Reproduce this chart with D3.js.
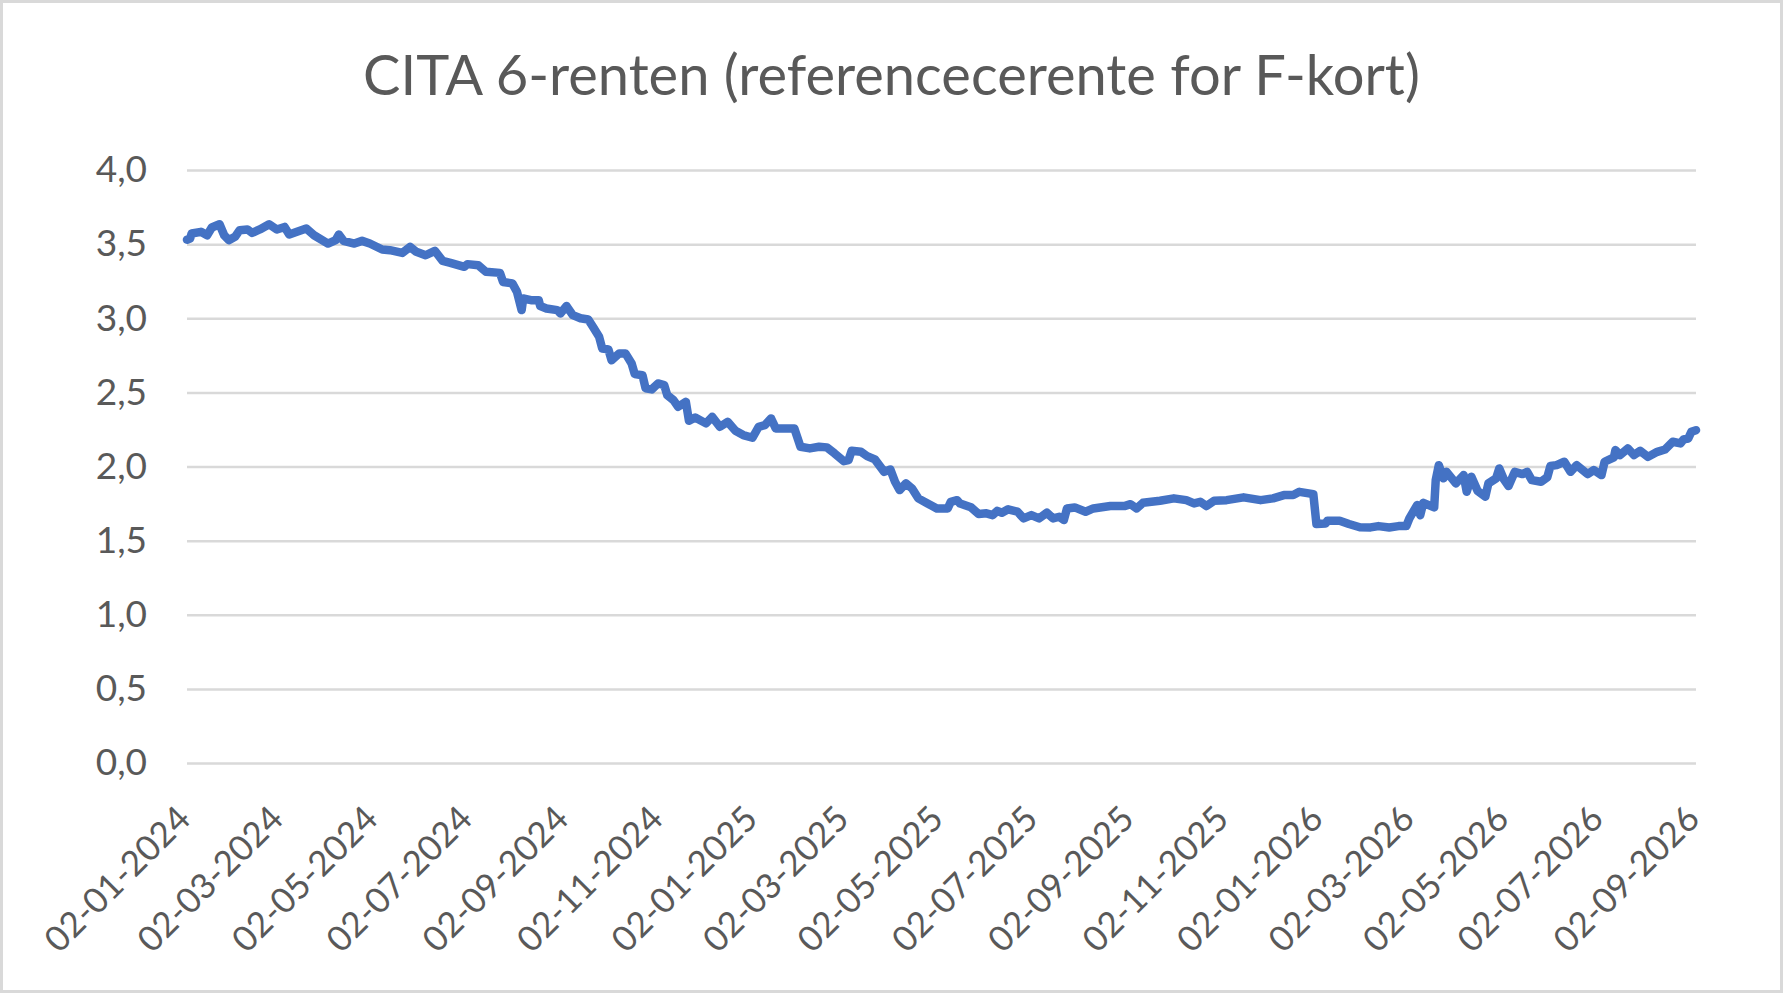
<!DOCTYPE html>
<html>
<head>
<meta charset="utf-8">
<script src="https://d3js.org/d3.v7.min.js"></script>
<style>
  body { margin: 0; background: #fff; }
  svg { display: block; }
</style>
</head>
<body>
<div id="chart"></div>
<script>
const title = "CITA 6-renten (referencecerente for F-kort)";

// dates (yyyy-mm-dd)
const dates = [
    "2024-01-02", "2024-01-04", "2024-01-05", "2024-01-11", "2024-01-15", "2024-01-18", "2024-01-23", "2024-01-26",
    "2024-01-29", "2024-02-02", "2024-02-05", "2024-02-10", "2024-02-13", "2024-02-18", "2024-02-24", "2024-02-29",
    "2024-03-05", "2024-03-08", "2024-03-13", "2024-03-19", "2024-03-24", "2024-04-02", "2024-04-07", "2024-04-09",
    "2024-04-12", "2024-04-19", "2024-04-24", "2024-04-29", "2024-05-07", "2024-05-12", "2024-05-20", "2024-05-25",
    "2024-05-29", "2024-06-04", "2024-06-10", "2024-06-15", "2024-06-20", "2024-06-29", "2024-07-01", "2024-07-08",
    "2024-07-13", "2024-07-22", "2024-07-24", "2024-07-30", "2024-08-02", "2024-08-05", "2024-08-06", "2024-08-11",
    "2024-08-16", "2024-08-17", "2024-08-21", "2024-08-28", "2024-08-30", "2024-09-03", "2024-09-07", "2024-09-12",
    "2024-09-17", "2024-09-20", "2024-09-24", "2024-09-26", "2024-09-30", "2024-10-02", "2024-10-07", "2024-10-11",
    "2024-10-15", "2024-10-17", "2024-10-22", "2024-10-24", "2024-10-28", "2024-11-01", "2024-11-05", "2024-11-07",
    "2024-11-11", "2024-11-14", "2024-11-19", "2024-11-21", "2024-11-25", "2024-12-02", "2024-12-06", "2024-12-11",
    "2024-12-16", "2024-12-21", "2024-12-26", "2025-01-01", "2025-01-05", "2025-01-09", "2025-01-13", "2025-01-16",
    "2025-01-22", "2025-01-28", "2025-02-01", "2025-02-07", "2025-02-13", "2025-02-18", "2025-02-23", "2025-03-01",
    "2025-03-04", "2025-03-06", "2025-03-12", "2025-03-16", "2025-03-21", "2025-03-27", "2025-03-31", "2025-04-03",
    "2025-04-06", "2025-04-10", "2025-04-14", "2025-04-18", "2025-04-24", "2025-04-30", "2025-05-07", "2025-05-09",
    "2025-05-13", "2025-05-15", "2025-05-22", "2025-05-27", "2025-06-01", "2025-06-05", "2025-06-08", "2025-06-11",
    "2025-06-15", "2025-06-21", "2025-06-25", "2025-06-30", "2025-07-05", "2025-07-10", "2025-07-14", "2025-07-18",
    "2025-07-21", "2025-07-23", "2025-07-28", "2025-08-04", "2025-08-09", "2025-08-20", "2025-08-29", "2025-09-02",
    "2025-09-06", "2025-09-10", "2025-09-21", "2025-09-30", "2025-10-08", "2025-10-13", "2025-10-17", "2025-10-21",
    "2025-10-26", "2025-11-03", "2025-11-14", "2025-11-25", "2025-12-03", "2025-12-10", "2025-12-16", "2025-12-20",
    "2025-12-29", "2025-12-31", "2026-01-06", "2026-01-07", "2026-01-15", "2026-01-21", "2026-01-28", "2026-02-04",
    "2026-02-09", "2026-02-16", "2026-02-22", "2026-02-27", "2026-03-01", "2026-03-06", "2026-03-08", "2026-03-10",
    "2026-03-17", "2026-03-18", "2026-03-20", "2026-03-23", "2026-03-25", "2026-03-31", "2026-04-05", "2026-04-07",
    "2026-04-10", "2026-04-14", "2026-04-19", "2026-04-21", "2026-04-26", "2026-04-28", "2026-05-01", "2026-05-04",
    "2026-05-08", "2026-05-13", "2026-05-16", "2026-05-19", "2026-05-25", "2026-05-29", "2026-05-31", "2026-06-04",
    "2026-06-09", "2026-06-13", "2026-06-17", "2026-06-24", "2026-06-28", "2026-07-03", "2026-07-05", "2026-07-11",
    "2026-07-12", "2026-07-15", "2026-07-20", "2026-07-24", "2026-07-28", "2026-08-02", "2026-08-08", "2026-08-13",
    "2026-08-18", "2026-08-23", "2026-08-25", "2026-08-28", "2026-08-30", "2026-09-02"
];

// rate in percent
const rates = [
    3.53, 3.538, 3.572, 3.583, 3.56, 3.612, 3.634, 3.56,
    3.527, 3.549, 3.594, 3.599, 3.576, 3.599, 3.634, 3.599,
    3.616, 3.565, 3.583, 3.605, 3.56, 3.504, 3.527, 3.565,
    3.522, 3.504, 3.522, 3.504, 3.464, 3.459, 3.441, 3.481,
    3.448, 3.425, 3.455, 3.387, 3.374, 3.347, 3.365, 3.358,
    3.313, 3.306, 3.245, 3.235, 3.178, 3.055, 3.133, 3.122,
    3.122, 3.082, 3.066, 3.055, 3.032, 3.082, 3.021, 3.0,
    2.992, 2.942, 2.875, 2.796, 2.79, 2.717, 2.763, 2.763,
    2.695, 2.623, 2.616, 2.527, 2.52, 2.56, 2.549, 2.481,
    2.448, 2.403, 2.436, 2.308, 2.331, 2.291, 2.335, 2.268,
    2.301, 2.241, 2.212, 2.194, 2.268, 2.279, 2.324, 2.257,
    2.257, 2.257, 2.133, 2.122, 2.133, 2.129, 2.088, 2.036,
    2.043, 2.106, 2.099, 2.07, 2.048, 1.964, 1.98, 1.897,
    1.841, 1.886, 1.852, 1.785, 1.751, 1.717, 1.717, 1.762,
    1.773, 1.75, 1.725, 1.679, 1.684, 1.672, 1.701, 1.688,
    1.711, 1.695, 1.65, 1.672, 1.65, 1.688, 1.65, 1.661,
    1.639, 1.717, 1.724, 1.695, 1.717, 1.733, 1.733, 1.746,
    1.717, 1.755, 1.769, 1.785, 1.773, 1.751, 1.762, 1.733,
    1.769, 1.773, 1.792, 1.773, 1.785, 1.807, 1.807, 1.829,
    1.814, 1.612, 1.616, 1.634, 1.634, 1.612, 1.59, 1.589,
    1.598, 1.589, 1.598, 1.598, 1.65, 1.74, 1.672, 1.755,
    1.724, 1.908, 2.009, 1.92, 1.964, 1.886, 1.942, 1.829,
    1.931, 1.836, 1.796, 1.886, 1.92, 1.987, 1.913, 1.868,
    1.964, 1.949, 1.964, 1.908, 1.897, 1.927, 2.003, 2.009,
    2.032, 1.964, 2.009, 1.949, 1.976, 1.942, 2.032, 2.061,
    2.111, 2.077, 2.122, 2.077, 2.106, 2.065, 2.099, 2.115,
    2.167, 2.156, 2.183, 2.189, 2.234, 2.245
];

const xTicks = [
    "2024-01-02", "2024-03-02", "2024-05-02", "2024-07-02", "2024-09-02", "2024-11-02",
    "2025-01-02", "2025-03-02", "2025-05-02", "2025-07-02", "2025-09-02", "2025-11-02",
    "2026-01-02", "2026-03-02", "2026-05-02", "2026-07-02", "2026-09-02"
];
const yTicks = [0, 0.5, 1, 1.5, 2, 2.5, 3, 3.5, 4];

const fullWidth = 1783;
const fullHeight = 993;
const margin = { top: 170, right: 87, bottom: 230, left: 187 };
const fontFamily = "Lato, 'Open Sans', sans-serif";
const textColor = "#595959";

const parseDate = d3.timeParse("%Y-%m-%d");
const fmtDate = d3.timeFormat("%d-%m-%Y");
const fmtNum = d3.formatLocale({ decimal: ",", thousands: ".", grouping: [3], currency: ["", " kr."] }).format(".1f");

function render() {
    const container = d3.select("#chart");
    container.selectAll("*").remove();

    const svg = container.append("svg")
        .attr("width", fullWidth)
        .attr("height", fullHeight);

    // chart area with its thin grey frame
    svg.append("rect")
        .attr("x", 1.5)
        .attr("y", 1.5)
        .attr("width", fullWidth - 3)
        .attr("height", fullHeight - 3)
        .attr("fill", "#fff")
        .attr("stroke", "#d9d9d9")
        .attr("stroke-width", 3);

    const width = fullWidth - margin.left - margin.right;
    const innerHeight = fullHeight - margin.top - margin.bottom;

    const g = svg.append("g")
        .attr("transform", `translate(${margin.left}, ${margin.top})`);

    const data = dates.map((d, i) => ({ date: parseDate(d), rate: rates[i] }));

    // Scales
    const x = d3.scaleTime()
        .domain([parseDate(xTicks[0]), parseDate(xTicks[xTicks.length - 1])])
        .range([0, width]);

    const y = d3.scaleLinear()
        .domain([0, 4])
        .range([innerHeight, 0]);

    // Gridlines + y labels
    const yAxis = g.append("g")
        .call(d3.axisLeft(y)
            .tickValues(yTicks)
            .tickSize(-width)
            .tickPadding(40)
            .tickFormat(fmtNum));

    yAxis.select(".domain").remove();
    yAxis.selectAll(".tick line")
        .attr("stroke", "#d9d9d9")
        .attr("stroke-width", 2.5);
    yAxis.selectAll(".tick text")
        .style("font-family", fontFamily)
        .style("font-size", "37px")
        .attr("fill", textColor);

    // X labels, rotated
    const xAxis = g.append("g")
        .attr("transform", `translate(0, ${innerHeight})`)
        .call(d3.axisBottom(x)
            .tickValues(xTicks.map(parseDate))
            .tickSize(0)
            .tickFormat(fmtDate));

    xAxis.select(".domain").remove();
    xAxis.selectAll(".tick text")
        .style("font-family", fontFamily)
        .style("font-size", "35px")
        .attr("fill", textColor)
        .attr("text-anchor", "end")
        .attr("dy", 0)
        .attr("y", 0)
        .attr("transform", "translate(5, 58) rotate(-45)");

    // Line
    const line = d3.line()
        .x(d => x(d.date))
        .y(d => y(d.rate));

    g.append("path")
        .datum(data)
        .attr("fill", "none")
        .attr("stroke", "#4472c4")
        .attr("stroke-width", 8.5)
        .attr("stroke-linejoin", "round")
        .attr("stroke-linecap", "round")
        .attr("d", line);

    // Chart title
    svg.append("text")
        .attr("x", fullWidth / 2)
        .attr("y", 95)
        .attr("text-anchor", "middle")
        .style("font-family", fontFamily)
        .style("font-size", "56px")
        .attr("fill", textColor)
        .text(title);
}

render();
</script>
</body>
</html>
